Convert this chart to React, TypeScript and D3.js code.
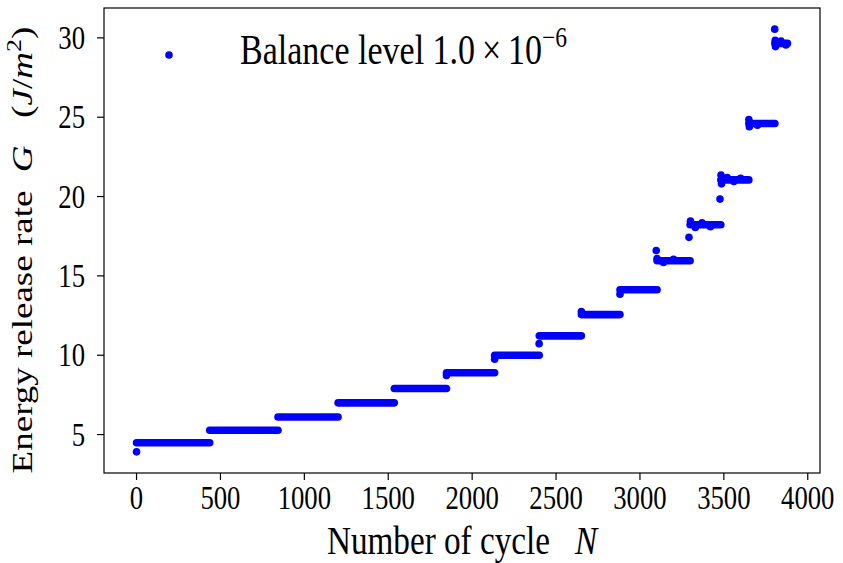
import * as d3 from 'd3';

// plateau segments: first and last cycle of each load level, and its G value
const stepStartN = [0, 436, 843, 1201, 1536, 1847, 2134, 2400, 2651, 2881, 3102, 3299, 3482, 3649, 3804];
const stepEndN = [436, 843, 1201, 1536, 1847, 2134, 2400, 2651, 2881, 3102, 3299, 3482, 3649, 3804, 3879];
const stepG = [4.48, 5.27, 6.11, 7.0, 7.9, 8.9, 10.0, 11.22, 12.56, 14.13, 15.95, 18.22, 21.05, 24.6, 29.65];

// single cycles that sit off the plateaus (transients and scatter)
const pointN = [0, 1847, 2134, 2399, 2651, 2881, 3097, 3102, 3140, 3200, 3292, 3301, 3330, 3370, 3420, 3477, 3483, 3486, 3520, 3560, 3600, 3649, 3652, 3700, 3803, 3806, 3808, 3840, 3870];
const pointG = [3.91, 8.72, 9.75, 10.73, 12.75, 13.85, 16.6, 16.1, 15.85, 16.05, 17.43, 18.45, 18.05, 18.35, 18.1, 19.84, 21.35, 20.8, 21.2, 20.95, 21.15, 24.85, 24.4, 24.5, 30.55, 29.85, 29.45, 29.8, 29.55];

const xTicks = [0, 500, 1000, 1500, 2000, 2500, 3000, 3500, 4000];
const yTicks = [5, 10, 15, 20, 25, 30];

const W = 843;
const H = 563;
const margin = { top: 8, right: 23, bottom: 90, left: 104 };
const BLUE = '#0000ff';
const FONT = '"Liberation Serif", "Times New Roman", serif';
const SX = 0.81; // glyphs in the reference are narrow
const R = 3.8;

export default function App() {
  const allN = [...stepStartN, ...stepEndN, ...pointN];
  const allG = [...stepG, ...pointG];
  const [n0, n1] = d3.extent(allN) as [number, number];
  const [g0, g1] = d3.extent(allG) as [number, number];
  const padN = (n1 - n0) * 0.05;
  const padG = (g1 - g0) * 0.05;

  const x = d3.scaleLinear()
    .domain([n0 - padN, n1 + padN])
    .range([margin.left, W - margin.right]);
  const y = d3.scaleLinear()
    .domain([g0 - padG, g1 + padG])
    .range([H - margin.bottom, margin.top]);

  const left = margin.left;
  const right = W - margin.right;
  const top = margin.top;
  const bottom = H - margin.bottom;

  return (
    <svg width={W} height={H} style={{ display: 'block', position: 'absolute', left: 0, top: 0 }}>
      <rect width={W} height={H} fill="#fff" />

      {/* plateaus */}
      {stepG.map((g, i) => (
        <line key={'s' + i}
          x1={x(stepStartN[i])} x2={x(stepEndN[i])}
          y1={y(g)} y2={y(g)}
          stroke={BLUE} strokeWidth={2 * R} strokeLinecap="round" />
      ))}
      {pointG.map((g, i) => (
        <circle key={'p' + i} cx={x(pointN[i])} cy={y(g)} r={R} fill={BLUE} />
      ))}

      {/* frame */}
      <rect x={left} y={top} width={right - left} height={bottom - top}
        fill="none" stroke="#000" strokeWidth={1.2} />

      {/* x axis */}
      {xTicks.map(t => (
        <g key={'x' + t}>
          <line x1={x(t)} x2={x(t)} y1={bottom} y2={bottom + 7} stroke="#000" strokeWidth={1.2} />
          <g transform={`translate(${x(t)},${bottom + 36}) scale(${SX},1)`}>
            <text textAnchor="middle" fontFamily={FONT} fontSize={33} fill="#000">{t}</text>
          </g>
        </g>
      ))}

      {/* y axis */}
      {yTicks.map(t => (
        <g key={'y' + t}>
          <line x1={left - 7} x2={left} y1={y(t)} y2={y(t)} stroke="#000" strokeWidth={1.2} />
          <g transform={`translate(${left - 19},${y(t) + 11}) scale(${SX},1)`}>
            <text textAnchor="end" fontFamily={FONT} fontSize={33} fill="#000">{t}</text>
          </g>
        </g>
      ))}

      {/* axis labels */}
      <g transform={`translate(${(left + right) / 2},554) scale(${SX},1)`}>
        <text textAnchor="middle" fontFamily={FONT} fontSize={41} fill="#000">
          Number of cycle{'\u00a0\u00a0\u00a0'}<tspan fontStyle="italic">N</tspan>
        </text>
      </g>
      <g transform={`translate(32,250) scale(${SX},1) rotate(-90)`}>
        <text textAnchor="middle" fontFamily={FONT} fontSize={37} fill="#000">
          Energy release rate{'\u00a0\u00a0'}<tspan fontStyle="italic">G</tspan>{'\u00a0\u00a0\u00a0'}(<tspan fontStyle="italic">J</tspan>/<tspan fontStyle="italic">m</tspan><tspan fontSize={26} dy={-14}>2</tspan><tspan dy={14}>)</tspan>
        </text>
      </g>

      {/* legend */}
      <circle cx={169} cy={55} r={R} fill={BLUE} />
      <g transform={`translate(240,64) scale(${SX},1)`}>
        <text fontFamily={FONT} fontSize={42} fill="#000">
          Balance level 1.0{'\u2009'}{'\u00d7'}{'\u2009'}10<tspan fontSize={29} dy={-17}>{'\u2212'}6</tspan>
        </text>
      </g>
    </svg>
  );
}
